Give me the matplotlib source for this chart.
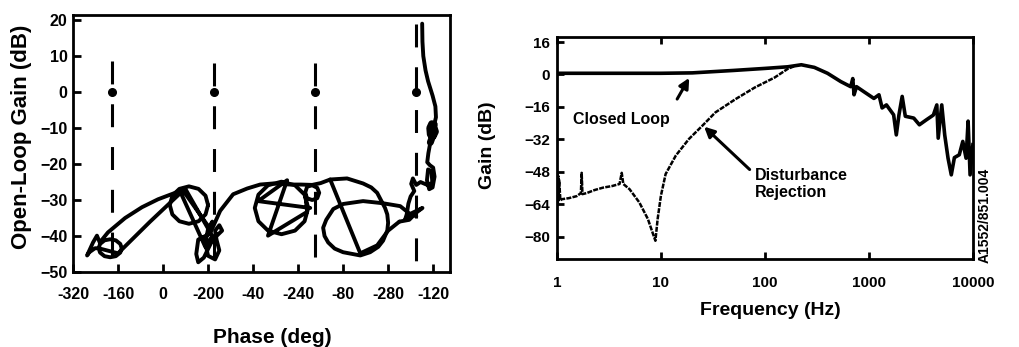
import numpy as np
import matplotlib
matplotlib.use("Agg")
import matplotlib.pyplot as plt

plt.rcParams['font.family'] = ['Liberation Sans', 'DejaVu Sans']
plt.rcParams['font.weight'] = 'bold'
plt.rcParams['axes.labelweight'] = 'bold'

# ---- left panel: Nichols-style open-loop curve (phase unwrapped, gain dB) ----
phase_ticks = [-320, -160, 0, 160, 320, 480, 640, 800, 960]
phase_labels = ['-320', '-160', '0', '-200', '-40', '-240', '-80', '-280', '-120']
gain_ticks = [-50, -40, -30, -20, -10, 0, 10, 20]

crit_phase = [-180, 180, 540, 900]
crit_top = [8.5, 8.0, 8.0, 19.0]

seg_top = [(921, 19), (922, 14), (925, 10), (933, 6), (942, 3), (958, -1), (968, -4),
           (970, -7), (964, -9)]
# the heavy blob near -10 dB
seg_blob = [(964, -9), (955, -8.8), (948, -10), (950, -11.8), (960, -12.3),
            (968, -11), (962, -9.5), (952, -10.2), (955, -11.5), (963, -11.2), (950, -14)]
seg_cluster = [(950, -14), (943, -17), (939, -19.5), (948, -20.3), (960, -21), (965, -23.5),
               (958, -26.5), (946, -27), (938, -24.5), (942, -21.5), (954, -22), (957, -25),
               (946, -26), (930, -25.5), (915, -25), (900, -25.8), (888, -24), (882, -25.5),
               (893, -27.5), (880, -29), (872, -31), (866, -34), (860, -35.5), (880, -33.8),
               (922, -32.2), (900, -33.5), (875, -35.5), (840, -36)]
seg_diag = [(840, -36), (800, -38.5), (761, -42.6), (701, -44.8), (594, -24.3),
            (560, -25.3), (530, -25.8), (490, -25.7), (452, -25.7), (391, -25.4),
            (345, -25.7), (299, -26.8), (249, -28.4), (203, -33), (167, -39.3)]
seg_loop = [(900, -34.5), (878, -33.9), (843, -31.7), (782, -30.9), (711, -30.3),
            (640, -31.1), (605, -32.5), (580, -35.5), (569, -37.7), (574, -40),
            (587, -41.8), (610, -43.5), (640, -44.5), (701, -45.4), (736, -44.5),
            (765, -43), (782, -41.3), (797, -38.5), (800, -36.3), (797, -34),
            (789, -32.2), (761, -28), (740, -26.5), (711, -25.4), (654, -24), (594, -24.3)]
seg_star = [(516, -32.2), (503, -28.5), (469, -25.9), (421, -24.9), (373, -25.9),
            (339, -28.5), (326, -32.2), (339, -35.9), (373, -38.5), (421, -39.5),
            (469, -38.5), (503, -35.9), (516, -32.2), (523, -32.2), (338, -30.3),
            (441, -24.5), (373, -39.9), (512, -33.3), (505, -28),
            (512, -26.3), (530, -25.9), (548, -26.6), (555, -28), (548, -29.5),
            (530, -30), (512, -29.5), (505, -28)]
seg_mid = [(167, -39.3), (150, -40), (125, -41), (118, -45), (125, -47.3), (145, -46),
           (170, -42), (190, -40), (210, -38.5), (200, -37), (185, -38.5), (190, -41),
           (200, -44), (185, -46.5), (160, -45.5), (150, -42), (160, -38), (175, -36),
           (167, -38), (68, -27), (80, -27), (175, -40), (150, -43), (60, -27.5), (40, -29)]
seg_ring = [(160, -31.4), (151, -28.8), (126, -26.9), (92, -26.2), (58, -26.9),
            (33, -28.8), (24, -31.4), (33, -34), (58, -35.9), (92, -36.6), (126, -35.9),
            (151, -34), (160, -31.4)]
seg_left = [(68, -27), (43, -28), (-18, -29.8), (-75, -32), (-135, -35), (-196, -39),
            (-225, -41.8), (-235, -39.9), (-249, -41.8), (-270, -45.4), (-262, -44.5),
            (-242, -43.4), (-229, -43.4), (-224, -44.6), (-208, -45.6), (-188, -45.9),
            (-168, -45.6), (-152, -44.6), (-147, -43.4), (-152, -42.2), (-168, -41.2),
            (-188, -40.9), (-208, -41.2), (-224, -42.2), (-229, -43.4),
            (-160, -44.8), (-46, -36), (68, -27.6)]
segments = [seg_top, seg_cluster, seg_diag, seg_loop, seg_star, seg_mid, seg_ring, seg_left]

# ---- right panel: closed loop and disturbance rejection ----
cl_freq = [1, 10, 20, 50, 100, 166, 224, 299, 400, 537, 668, 700, 720, 760, 896, 1117,
           1250, 1340, 1475, 1730, 1835, 1945, 2090, 2240, 2700, 3060, 3560, 4170, 4500,
           4640, 5020, 5360, 5770, 6200, 6640, 7400, 8000, 8600, 9000, 9400, 10000]
cl_gain = [0.6, 0.6, 0.8, 2, 3, 3.8, 4.8, 3.5, 0.6, -3.5, -6, -2, -10, -6, -8.5, -11.8,
           -10, -16.5, -15, -19.9, -29.8, -20, -10.8, -20.6, -21.5, -24.8, -22.4, -20, -15,
           -31.4, -15, -29.8, -41.3, -49.5, -41, -39.6, -33, -41.3, -23, -49.5, -34.6]

dr_freq = [1.0, 1.01, 1.02, 1.03, 1.04, 1.05, 1.08, 1.12, 1.3, 1.55, 1.7, 1.73, 1.76,
           1.93, 2.3, 2.78, 3.4, 4.0, 4.2, 4.35, 5.0, 6.2, 7.5, 8.3, 8.85, 9.3, 10, 11.1,
           13.9, 18.6, 25, 33.4, 52, 80, 124, 166, 190]
dr_gain = [-63, -48, -64, -50, -62, -52, -62, -61.5, -61, -60, -58.5, -48.5, -59,
           -58.5, -57, -55.8, -55, -54, -48.5, -54, -56.6, -63.1, -71.3, -77.9, -82,
           -71.3, -59.8, -49.1, -40, -31.8, -25.3, -18.7, -12.2, -6.4, -1.5, 2.8, 4]

freq_ticks = [1, 10, 100, 1000, 10000]
freq_labels = ['1', '10', '100', '1000', '10000']
db_ticks = [16, 0, -16, -32, -48, -64, -80]

fig = plt.figure(figsize=(10.2, 3.47), dpi=100)

# left axes
ax1 = fig.add_axes([0.0716, 0.2161, 0.3696, 0.7406])
for seg in segments:
    pts = np.array(seg, dtype=float)
    ax1.plot(pts[:, 0], pts[:, 1], color='black', lw=2.8,
             solid_joinstyle='round', solid_capstyle='round')
blob = np.array(seg_blob, dtype=float)
ax1.plot(blob[:, 0], blob[:, 1], color='black', lw=5, solid_joinstyle='round',
         solid_capstyle='round')
for xp, top in zip(crit_phase, crit_top):
    ax1.plot([xp, xp], [top, -50], color='black', lw=2.2, dashes=(7.5, 6.5))
    ax1.plot([xp], [0], 'o', color='black', ms=5.5)
ax1.set_xlim(-320, 1020)
ax1.set_ylim(-50, 21.4)
ax1.set_xticks(phase_ticks)
ax1.set_xticklabels(phase_labels)
ax1.set_yticks(gain_ticks)
ax1.tick_params(axis='x', direction='in', length=6, width=2, pad=11, labelsize=11.5)
ax1.tick_params(axis='y', direction='in', length=6, width=2, pad=4, labelsize=11.5)
for sp in ax1.spines.values():
    sp.set_linewidth(2)
ax1.set_xlabel('Phase (deg)', fontsize=15, va='center')
ax1.xaxis.set_label_coords(0.528, -0.253)
ax1.set_ylabel('Open-Loop Gain (dB)', fontsize=16, va='center')
ax1.yaxis.set_label_coords(-0.138, 0.525)

# right axes
ax2 = fig.add_axes([0.546, 0.2536, 0.4078, 0.6398])
ax2.semilogx(cl_freq, cl_gain, color='black', lw=2.6, solid_joinstyle='round')
ax2.semilogx(dr_freq, dr_gain, color='black', lw=1.8, dashes=(2.0, 0.5))
ax2.set_xlim(1, 10000)
ax2.set_ylim(-91, 18.5)
ax2.set_xticks(freq_ticks)
ax2.set_xticklabels(freq_labels)
ax2.minorticks_off()
ax2.set_yticks(db_ticks)
ax2.tick_params(axis='x', direction='in', length=5, width=2, pad=12, labelsize=11,
                top=True)
ax2.tick_params(axis='y', direction='in', length=5, width=2, pad=5, labelsize=11)
for sp in ax2.spines.values():
    sp.set_linewidth(2)
ax2.set_xlabel('Frequency (Hz)', fontsize=14, va='center')
ax2.xaxis.set_label_coords(0.512, -0.23)
ax2.set_ylabel('Gain (dB)', fontsize=14, va='center')
ax2.yaxis.set_label_coords(-0.166, 0.514)

ax2.annotate('', xy=(19.3, -0.5), xytext=(13.9, -13.3),
             arrowprops=dict(arrowstyle='-|>', color='black', lw=2.2, mutation_scale=15))
ax2.text(1.42, -22.2, 'Closed Loop', fontsize=11.5, ha='left', va='center')
ax2.annotate('', xy=(24.9, -24.8), xytext=(74.6, -47.8),
             arrowprops=dict(arrowstyle='-|>', color='black', lw=2.2, mutation_scale=15))
ax2.text(80, -54.2, 'Disturbance\nRejection', fontsize=11.5, ha='left', va='center',
         linespacing=1.15)

fig.text(985 / 1020, 1 - 215 / 347, 'A1552/851.004', rotation=90, fontsize=10,
         ha='center', va='center')

fig.savefig('out.png', dpi=100)
